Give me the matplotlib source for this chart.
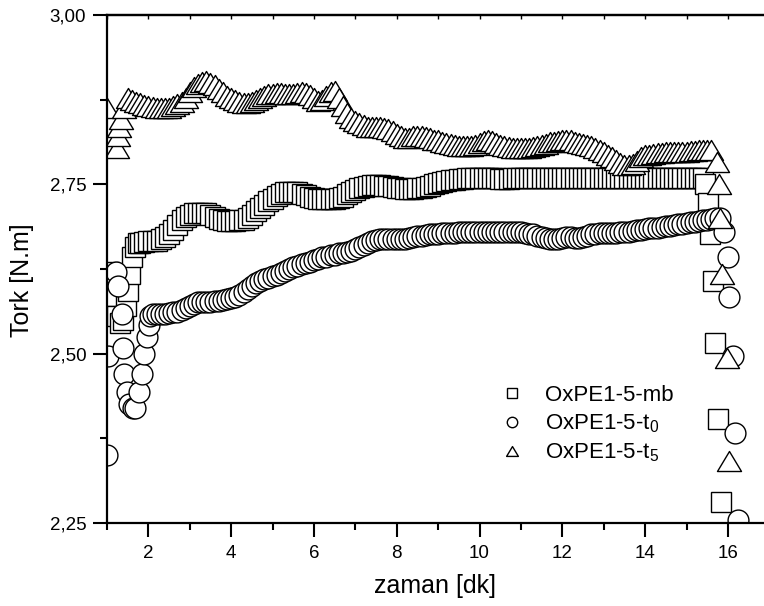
import numpy as np
import matplotlib
matplotlib.use("Agg")
from matplotlib import pyplot as plt
from matplotlib.path import Path
from matplotlib.lines import Line2D
from matplotlib.ticker import FuncFormatter, MultipleLocator

plt.rcParams['font.family'] = ['Liberation Sans', 'DejaVu Sans']
plt.rcParams['mathtext.default'] = 'regular'

# ---- OxPE1-5-mb (squares) ----
mb_x = [1.05, 1.15, 1.25, 1.32, 1.38, 1.45, 1.50, 1.55, 1.60, 1.68, 1.75,
        1.8, 1.9, 2.0, 2.1, 2.2, 2.3, 2.4, 2.5, 2.6, 2.7, 2.8, 2.9, 3.0, 3.1, 3.2,
        3.3, 3.4, 3.5, 3.6, 3.7, 3.8, 3.9, 4.0, 4.1, 4.2, 4.3, 4.4, 4.5, 4.6, 4.7,
        4.8, 4.9, 5.0, 5.1, 5.2, 5.3, 5.4, 5.5, 5.6, 5.7, 5.8, 5.9, 6.0, 6.1, 6.2,
        6.3, 6.4, 6.5, 6.6, 6.7, 6.8, 6.9, 7.0, 7.1, 7.2, 7.3, 7.4, 7.5, 7.6, 7.7,
        7.8, 7.9, 8.0, 8.1, 8.2, 8.3, 8.4, 8.5, 8.6, 8.7, 8.8, 8.9, 9.0, 9.1, 9.2,
        9.3, 9.4, 9.5, 9.6, 9.7, 9.8, 9.9, 10.0, 10.1, 10.2, 10.3, 10.4, 10.5, 10.6,
        10.7, 10.8, 10.9, 11.0, 11.1, 11.2, 11.3, 11.4, 11.5, 11.6, 11.7, 11.8, 11.9,
        12.0, 12.1, 12.2, 12.3, 12.4, 12.5, 12.6, 12.7, 12.8, 12.9, 13.0, 13.1, 13.2,
        13.3, 13.4, 13.5, 13.6, 13.7, 13.8, 13.9, 14.0, 14.1, 14.2, 14.3, 14.4, 14.5,
        14.6, 14.7, 14.8, 14.9, 15.0, 15.1, 15.2, 15.3, 15.4,
        15.45, 15.52, 15.57, 15.64, 15.69, 15.76, 15.83]
mb_y = [2.620, 2.585, 2.555, 2.545, 2.550, 2.570, 2.593, 2.617, 2.642, 2.658, 2.663,
        2.664, 2.665, 2.666, 2.666, 2.667, 2.669, 2.672, 2.677, 2.683, 2.690, 2.697,
        2.702, 2.705, 2.707, 2.708, 2.708, 2.707, 2.705, 2.702, 2.699, 2.697, 2.696,
        2.696, 2.696, 2.697, 2.698, 2.701, 2.705, 2.710, 2.715, 2.720, 2.725, 2.729,
        2.733, 2.736, 2.738, 2.739, 2.739, 2.738, 2.736, 2.734, 2.732, 2.730, 2.729,
        2.728, 2.728, 2.728, 2.729, 2.730, 2.732, 2.735, 2.738, 2.741, 2.744, 2.746,
        2.748, 2.749, 2.749, 2.749, 2.748, 2.747, 2.746, 2.745, 2.744, 2.743, 2.743,
        2.743, 2.744, 2.745, 2.746, 2.748, 2.750, 2.752, 2.754, 2.755, 2.756, 2.757,
        2.758, 2.758, 2.759, 2.759, 2.759, 2.759, 2.760, 2.760, 2.759, 2.759, 2.758,
        2.758, 2.758, 2.759, 2.759, 2.760, 2.760, 2.760, 2.759, 2.759, 2.759, 2.759,
        2.760, 2.760, 2.760, 2.760, 2.760, 2.760, 2.759, 2.759, 2.759, 2.760, 2.760,
        2.760, 2.760, 2.760, 2.760, 2.759, 2.759, 2.759, 2.759, 2.759, 2.759, 2.760,
        2.760, 2.760, 2.760, 2.760, 2.760, 2.760, 2.760, 2.760, 2.760, 2.760, 2.760,
        2.760, 2.760, 2.760, 2.760, 2.760,
        2.750, 2.722, 2.677, 2.608, 2.516, 2.404, 2.281]

# ---- OxPE1-5-t0 (circles) ----
t0_x = [1.00, 1.03, 1.22, 1.26, 1.36, 1.38, 1.41, 1.48, 1.53, 1.62, 1.67, 1.77,
        1.84, 1.89, 1.96, 2.01, 2.05,
        2.1, 2.2, 2.3, 2.4, 2.5, 2.6, 2.7, 2.8, 2.9, 3.0, 3.1, 3.2, 3.3, 3.4, 3.5,
        3.6, 3.7, 3.8, 3.9, 4.0, 4.1, 4.2, 4.3, 4.4, 4.5, 4.6, 4.7, 4.8, 4.9, 5.0,
        5.1, 5.2, 5.3, 5.4, 5.5, 5.6, 5.7, 5.8, 5.9, 6.0, 6.1, 6.2, 6.3, 6.4, 6.5,
        6.6, 6.7, 6.8, 6.9, 7.0, 7.1, 7.2, 7.3, 7.4, 7.5, 7.6, 7.7, 7.8, 7.9, 8.0,
        8.1, 8.2, 8.3, 8.4, 8.5, 8.6, 8.7, 8.8, 8.9, 9.0, 9.1, 9.2, 9.3, 9.4, 9.5,
        9.6, 9.7, 9.8, 9.9, 10.0, 10.1, 10.2, 10.3, 10.4, 10.5, 10.6, 10.7, 10.8,
        10.9, 11.0, 11.1, 11.2, 11.3, 11.4, 11.5, 11.6, 11.7, 11.8, 11.9, 12.0,
        12.1, 12.2, 12.3, 12.4, 12.5, 12.6, 12.7, 12.8, 12.9, 13.0, 13.1, 13.2,
        13.3, 13.4, 13.5, 13.6, 13.7, 13.8, 13.9, 14.0, 14.1, 14.2, 14.3, 14.4,
        14.5, 14.6, 14.7, 14.8, 14.9, 15.0, 15.1, 15.2, 15.3, 15.4, 15.5, 15.6,
        15.7, 15.8,
        15.90, 16.00, 16.03, 16.12, 16.17, 16.25]
t0_y = [2.350, 2.497, 2.621, 2.600, 2.558, 2.509, 2.470, 2.444, 2.425, 2.420, 2.420,
        2.444, 2.470, 2.500, 2.525, 2.543, 2.555,
        2.558, 2.559, 2.559, 2.559, 2.560, 2.561, 2.562, 2.564, 2.567, 2.571, 2.574,
        2.576, 2.577, 2.577, 2.577, 2.578, 2.578, 2.579, 2.580, 2.582, 2.584, 2.587,
        2.591, 2.596, 2.600, 2.604, 2.607, 2.610, 2.612, 2.614, 2.616, 2.619, 2.622,
        2.625, 2.628, 2.630, 2.632, 2.634, 2.636, 2.638, 2.640, 2.642, 2.643, 2.645,
        2.646, 2.648, 2.649, 2.650, 2.652, 2.655, 2.658, 2.661, 2.664, 2.666, 2.668,
        2.669, 2.670, 2.670, 2.670, 2.670, 2.670, 2.670, 2.671, 2.672, 2.673, 2.674,
        2.675, 2.676, 2.677, 2.677, 2.678, 2.678, 2.678, 2.678, 2.679, 2.679, 2.679,
        2.680, 2.680, 2.680, 2.680, 2.680, 2.680, 2.680, 2.680, 2.680, 2.680, 2.680,
        2.679, 2.679, 2.678, 2.677, 2.676, 2.674, 2.672, 2.671, 2.670, 2.670, 2.670,
        2.671, 2.672, 2.672, 2.671, 2.671, 2.672, 2.674, 2.676, 2.677, 2.678, 2.678,
        2.678, 2.678, 2.678, 2.679, 2.680, 2.680, 2.681, 2.682, 2.683, 2.684, 2.685,
        2.686, 2.686, 2.687, 2.688, 2.689, 2.690, 2.691, 2.692, 2.693, 2.694, 2.695,
        2.696, 2.697, 2.698, 2.699, 2.700, 2.700,
        2.679, 2.643, 2.584, 2.496, 2.383, 2.255]

# ---- OxPE1-5-t5 (triangles) ----
t5_x = [1.00, 1.24, 1.27, 1.30, 1.35, 1.42,
        1.5, 1.6, 1.7, 1.8, 1.9, 2.0, 2.1, 2.2, 2.3, 2.4, 2.5, 2.6, 2.7, 2.8, 2.9,
        3.0, 3.1, 3.2, 3.3, 3.4, 3.5, 3.6, 3.7, 3.8, 3.9, 4.0, 4.1, 4.2, 4.3, 4.4,
        4.5, 4.6, 4.7, 4.8, 4.9, 5.0, 5.1, 5.2, 5.3, 5.4, 5.5, 5.6, 5.7, 5.8, 5.9,
        6.0, 6.1, 6.2, 6.3, 6.4, 6.5, 6.6, 6.7, 6.8, 6.9, 7.0, 7.1, 7.2, 7.3, 7.4,
        7.5, 7.6, 7.7, 7.8, 7.9, 8.0, 8.1, 8.2, 8.3, 8.4, 8.5, 8.6, 8.7, 8.8, 8.9,
        9.0, 9.1, 9.2, 9.3, 9.4, 9.5, 9.6, 9.7, 9.8, 9.9, 10.0, 10.1, 10.2, 10.3,
        10.4, 10.5, 10.6, 10.7, 10.8, 10.9, 11.0, 11.1, 11.2, 11.3, 11.4, 11.5,
        11.6, 11.7, 11.8, 11.9, 12.0, 12.1, 12.2, 12.3, 12.4, 12.5, 12.6, 12.7,
        12.8, 12.9, 13.0, 13.1, 13.2, 13.3, 13.4, 13.5, 13.6, 13.7, 13.8, 13.9,
        14.0, 14.1, 14.2, 14.3, 14.4, 14.5, 14.6, 14.7, 14.8, 14.9, 15.0, 15.1,
        15.2, 15.3, 15.4, 15.5, 15.6,
        15.74, 15.78, 15.80, 15.86, 15.97, 16.02]
t5_y = [2.862, 2.803, 2.821, 2.835, 2.846, 2.862,
        2.877, 2.875, 2.872, 2.870, 2.867, 2.865, 2.864, 2.863, 2.862, 2.862, 2.863,
        2.866, 2.869, 2.872, 2.878, 2.886, 2.893, 2.898, 2.901, 2.902, 2.900, 2.896,
        2.891, 2.886, 2.881, 2.877, 2.874, 2.871, 2.870, 2.870, 2.872, 2.875, 2.878,
        2.881, 2.883, 2.884, 2.885, 2.885, 2.884, 2.883, 2.884, 2.885, 2.886, 2.885,
        2.882, 2.877, 2.873, 2.874, 2.880, 2.887, 2.888, 2.878, 2.866, 2.855, 2.848,
        2.843, 2.840, 2.837, 2.835, 2.834, 2.834, 2.834, 2.833, 2.832, 2.829, 2.825,
        2.821, 2.818, 2.819, 2.821, 2.822, 2.822, 2.820, 2.818, 2.816, 2.815, 2.813,
        2.811, 2.809, 2.808, 2.807, 2.806, 2.806, 2.806, 2.808, 2.811, 2.814, 2.815,
        2.814, 2.811, 2.808, 2.806, 2.805, 2.804, 2.803, 2.803, 2.803, 2.804, 2.805,
        2.806, 2.808, 2.810, 2.812, 2.813, 2.814, 2.815, 2.815, 2.815, 2.813, 2.811,
        2.809, 2.808, 2.806, 2.804, 2.801, 2.798, 2.794, 2.790, 2.786, 2.782, 2.779,
        2.778, 2.780, 2.785, 2.790, 2.793, 2.794, 2.795, 2.796, 2.796, 2.797, 2.797,
        2.797, 2.798, 2.798, 2.798, 2.799, 2.799, 2.800, 2.800, 2.800, 2.800,
        2.783, 2.750, 2.700, 2.617, 2.494, 2.342]

labels = ['OxPE1-5-mb', 'OxPE1-5-t$_0$', 'OxPE1-5-t$_5$']

# wide open triangle like the original
tri = Path([(-1.2, -1.0), (1.2, -1.0), (0.0, 1.0), (-1.2, -1.0)],
           [Path.MOVETO, Path.LINETO, Path.LINETO, Path.CLOSEPOLY])

fig = plt.figure(figsize=(7.64, 6.06), dpi=100)
ax = fig.add_axes([107 / 764, 83 / 606, 0.862, 508 / 606])

style = dict(linestyle='none', markerfacecolor='white', markeredgecolor='black',
             markeredgewidth=1.0)
ax.plot(mb_x, mb_y, marker='s', markersize=13.8, **style)
ax.plot(t0_x, t0_y, marker='o', markersize=15, **style)
ax.plot(t5_x, t5_y, marker=tri, markersize=17.3, **style)

ax.set_xlim(1.0, 16.91)
ax.set_ylim(2.25, 3.0)

ax.xaxis.set_major_locator(MultipleLocator(2))
ax.xaxis.set_minor_locator(MultipleLocator(1))
ax.yaxis.set_major_locator(MultipleLocator(0.25))
ax.yaxis.set_minor_locator(MultipleLocator(0.125))
ax.yaxis.set_major_formatter(FuncFormatter(lambda v, p: f"{v:.2f}".replace('.', ',')))

ax.tick_params(which='major', direction='out', length=10, width=1.5, labelsize=13.5)
ax.tick_params(which='minor', direction='out', length=5, width=1.5)
ax.tick_params(axis='x', which='major', pad=6)
ax.tick_params(axis='y', which='major', pad=5)

for s in ['left', 'bottom', 'top']:
    ax.spines[s].set_linewidth(1.6)
ax.spines['right'].set_visible(False)

top = ax.secondary_xaxis('top')
top.xaxis.set_major_locator(MultipleLocator(1))
top.tick_params(direction='in', length=3, width=1.0, labeltop=False)
top.spines['top'].set_linewidth(1.6)

ax.set_xlabel('zaman [dk]', fontsize=18)
ax.set_ylabel('Tork [N.m]', fontsize=18)
ax.xaxis.set_label_coords(0.498, -0.124)
ax.xaxis.label.set_va('center')
ax.yaxis.set_label_coords(-0.129, 0.478)
ax.yaxis.label.set_va('center')

handles = [
    Line2D([], [], marker='s', markersize=7, **style),
    Line2D([], [], marker='o', markersize=7.5, **style),
    Line2D([], [], marker=tri, markersize=8.5, **style),
]
ax.legend(handles, labels, loc='upper left', bbox_to_anchor=(0.598, 0.272),
          frameon=False, fontsize=16, handlelength=1.0, handletextpad=1.0,
          borderpad=0, borderaxespad=0, labelspacing=0.3)

fig.savefig('out.png', dpi=100)
